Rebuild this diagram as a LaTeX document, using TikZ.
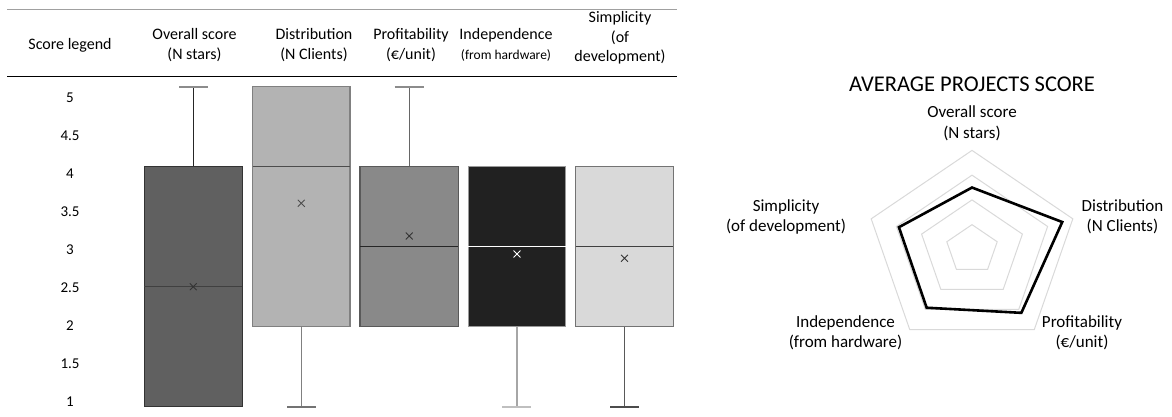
\documentclass[tikz,border=0pt]{standalone}
\usepackage{fontspec}
\setmainfont{Carlito}
\definecolor{rulegray}{RGB}{160,160,160}
\definecolor{ringgray}{RGB}{217,217,217}
\definecolor{boxone}{RGB}{96,96,96}
\definecolor{boxtwo}{RGB}{179,179,179}
\definecolor{boxthree}{RGB}{137,137,137}
\definecolor{boxfour}{RGB}{33,33,33}
\definecolor{boxfive}{RGB}{217,217,217}
\usetikzlibrary{shapes.misc,positioning}

\begin{document}
\begin{tikzpicture}[x=1pt,y=-1pt]
\tikzstyle{head}=[font=\fontsize{16}{19.5}\selectfont, align=center, inner sep=0pt]
\tikzstyle{tick}=[font=\fontsize{15}{17}\selectfont, inner sep=0pt]
\tikzstyle{spoke}=[font=\fontsize{17}{20.5}\selectfont, align=center, inner sep=0pt]
\tikzstyle{heading}=[font=\fontsize{22.5}{26}\selectfont, inner sep=0pt]
\tikzstyle{avg}=[cross out, draw, minimum size=6pt, inner sep=0pt, line width=0.9pt]
\tikzstyle{ring}=[draw=ringgray, line width=1pt]
\tikzstyle{whisk}=[line width=1.3pt]
\tikzstyle{whiskcap}=[line width=2.2pt]
\tikzstyle{bx}=[line width=1.3pt]

\useasboundingbox (0,0) rectangle (1172,416);

% table head
\draw[line width=1.3pt, rulegray] (7,9.3) -- (677,9.3);
\draw[line width=1.3pt] (7,76.3) -- (677,76.3);

	\node[head] (legend) at (70,45) {Score legend};
	\node[head] (h_1) at (194.5,45) {Overall score\\(N stars)};
	\node[head] (h_2) at (314,45) {Distribution\\(N Clients)};
	\node[head] (h_3) at (411,45) {Profitability\\(\texteuro/unit)};
	\node[head] (h_4) at (506,45) {Independence\\{\fontsize{13.5}{19.5}\selectfont (from hardware)}};
	\node[head] (h_5) at (620,38) {Simplicity\\(of\\development)};

% score legend
	\node[tick] (s_50) at (70,97.5) {5};
	\node[tick] (s_45) at (70,135.5) {4.5};
	\node[tick] (s_40) at (70,173.6) {4};
	\node[tick] (s_35) at (70,211.7) {3.5};
	\node[tick] (s_30) at (70,249.7) {3};
	\node[tick] (s_25) at (70,287.8) {2.5};
	\node[tick] (s_20) at (70,325.8) {2};
	\node[tick] (s_15) at (70,363.9) {1.5};
	\node[tick] (s_10) at (70,401.9) {1};

% overall score
\draw[whisk, black!85] (193.3,166.7) -- (193.3,86.7);
\draw[whiskcap, black!45] (179.3,86.7) -- (207.7,86.7);
\draw[bx, fill=boxone, draw=black!80] (144.3,166.7) rectangle (242.3,406.7);
\draw[line width=1.2pt, black!75] (144.3,286.7) -- (242.3,286.7);
	\node[avg, black!80] (m_1) at (193.3,286.7) {};

% distribution
\draw[whisk, black!50] (301.3,326.7) -- (301.3,406.7);
\draw[whiskcap, black!55] (287,406.7) -- (316,406.7);
\draw[bx, fill=boxtwo, draw=black!50] (252.5,86.7) rectangle (350,326.7);
\draw[line width=1.2pt, black!70] (252.5,166.7) -- (350,166.7);
	\node[avg, black!70] (m_2) at (301.3,203.3) {};

% profitability
\draw[whisk, black!60] (409.2,166.7) -- (409.2,86.7);
\draw[whiskcap, black!45] (394.5,86.7) -- (424,86.7);
\draw[bx, fill=boxthree, draw=black!65] (360,166.7) rectangle (458.3,326.7);
\draw[line width=1.2pt, black!85] (360,246.7) -- (458.3,246.7);
	\node[avg, black!80] (m_3) at (409.2,236) {};

% independence
\draw[whisk, black!35] (517,326.7) -- (517,406.7);
\draw[whiskcap, black!25] (502.3,406.7) -- (531.3,406.7);
\draw[bx, fill=boxfour, draw=black!40] (468.3,166.7) rectangle (565.7,326.7);
\draw[line width=1.2pt, white] (468.3,246.7) -- (565.7,246.7);
	\node[avg, white] (m_4) at (517,254) {};

% simplicity
\draw[whisk, black!65] (624.5,326.7) -- (624.5,406.7);
\draw[whiskcap, black!70] (610,406.7) -- (639,406.7);
\draw[bx, fill=boxfive, draw=black!55] (575.7,166.7) rectangle (673.3,326.7);
\draw[line width=1.2pt, black!75] (575.7,246.7) -- (673.3,246.7);
	\node[avg, black!80] (m_5) at (624.5,258.3) {};

% radar chart
	\node[heading] (radar) at (972,84.5) {AVERAGE PROJECTS SCORE};
	\node[spoke] (a_1) at (972,123.5) {Overall score\\(N stars)};
	\node[spoke] (a_2) at (1122.5,217) {Distribution\\(N Clients)};
	\node[spoke] (a_3) at (1082,333) {Profitability\\(\texteuro/unit)};
	\node[spoke] (a_4) at (845.5,333) {Independence\\(from hardware)};
	\node[spoke] (a_5) at (786,217) {Simplicity\\(of development)};

\begin{scope}[shift={(972,249.4)}, x=1.06pt, y=0.99pt]
\draw[ring] (90:25) -- (18:25) -- (-54:25) -- (-126:25) -- (162:25) -- cycle;
\draw[ring] (90:50) -- (18:50) -- (-54:50) -- (-126:50) -- (162:50) -- cycle;
\draw[ring] (90:75) -- (18:75) -- (-54:75) -- (-126:75) -- (162:75) -- cycle;
\draw[ring] (90:100) -- (18:100) -- (-54:100) -- (-126:100) -- (162:100) -- cycle;

	\coordinate (p_1) at (90:62.5);
	\coordinate (p_2) at (18:89.5);
	\coordinate (p_3) at (-54:79.2);
	\coordinate (p_4) at (-126:72.8);
	\coordinate (p_5) at (162:72.5);
\draw[line width=2.6pt, line join=miter] (p_1) -- (p_2) -- (p_3) -- (p_4) -- (p_5) -- cycle;
\end{scope}
\end{tikzpicture}
\end{document}
